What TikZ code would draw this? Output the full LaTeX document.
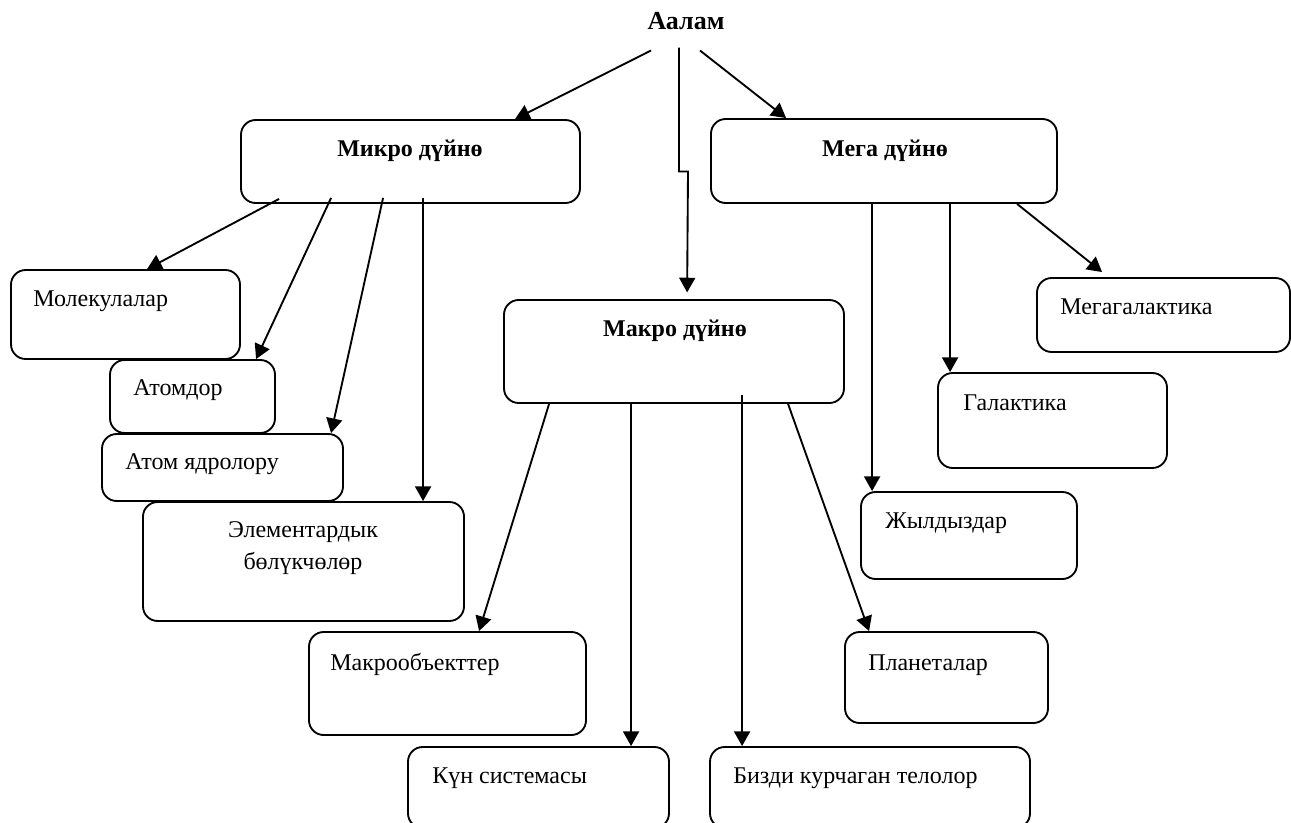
\documentclass[tikz,border=0pt]{standalone}
\usepackage{fontspec}
\setmainfont{Liberation Serif}
\usetikzlibrary{arrows.meta,calc,fit}
\begin{document}
\begin{tikzpicture}[x=0.75pt,y=-0.75pt,
  box/.style={draw=black,line width=1.4pt,rounded corners=11pt,inner sep=0pt},
  txt/.style={inner sep=0pt,font=\fontsize{18}{21}\selectfont},
  hdr/.style={inner sep=0pt,font=\fontsize{18}{22}\selectfont\bfseries},
  ttl/.style={inner sep=0pt,font=\fontsize{19.5}{24}\selectfont\bfseries},
  arr/.style={line width=1.4pt,-{Triangle[length=11pt,width=12pt]}}]
\useasboundingbox (0,0) rectangle (1291,823);
\clip (0,0) rectangle (1291,823);
% boxes
\node[box,fit={(241,120)(580,203)}] (micro) {};
\node[box,fit={(711,119)(1057,203)}] (mega) {};
\node[box,fit={(504,300)(844,403)}] (macro) {};
\node[box,fit={(11,270)(240,359)}] (mol) {};
\node[box,fit={(110,360)(275,433)}] (atom) {};
\node[box,fit={(102,434)(343,501)}] (nuc) {};
\node[box,fit={(143,502)(464,621)}] (elem) {};
\node[box,fit={(309,632)(586,735)}] (mobj) {};
\node[box,fit={(408,747)(669,828)}] (kun) {};
\node[box,fit={(710,747)(1030,828)}] (bizdi) {};
\node[box,fit={(845,632)(1048,723)}] (plan) {};
\node[box,fit={(861,492)(1077,579)}] (star) {};
\node[box,fit={(938,373)(1167,468)}] (gal) {};
\node[box,fit={(1037,278)(1290,352)}] (mgal) {};
% texts
\node[ttl,anchor=base] (title) at (686,30) {Аалам};
\node[hdr,anchor=base] (microT) at (410,157) {Микро дүйнө};
\node[hdr,anchor=base] (megaT) at (885,157) {Мега дүйнө};
\node[hdr,anchor=base] (macroT) at (675,337) {Макро дүйнө};
\node[txt,anchor=base west] (molT) at (33,307) {Молекулалар};
\node[txt,anchor=base west] (atomT) at (133,395) {Атомдор};
\node[txt,anchor=base west] (nucT) at (125,469) {Атом ядролору};
\node[txt,align=center,anchor=center,font=\fontsize{18}{24}\selectfont] (elemT) at (303,548) {Элементардык\\бөлүкчөлөр};
\node[txt,anchor=base west] (mobjT) at (330,670) {Макрообъекттер};
\node[txt,anchor=base west] (kunT) at (432,783) {Күн системасы};
\node[txt,anchor=base west] (bizdiT) at (733,783) {Бизди курчаган телолор};
\node[txt,anchor=base west] (planT) at (868,670) {Планеталар};
\node[txt,anchor=base west] (starT) at (885,528) {Жылдыздар};
\node[txt,anchor=base west] (galT) at (963,410) {Галактика};
\node[txt,anchor=base west] (mgalT) at (1060,315) {Мегагалактика};
% connectors from title
\draw[arr] ($(title.south)+(-35,20)$) -- ($(micro.north west)+(275,0)$);
\draw[arr] ($(title.south)+(14,20)$) -- ($(mega.north west)+(76,0)$);
\draw[arr,shorten >=5pt] ($(title.south)+(-7,17)$) -- ++(0,124) -- ++(9,0) -- ($(macro.north west)+(184,0)$);
% from micro
\draw[arr] ($(micro.south west)+(39,-5)$) -- ($(mol.north west)+(137,0)$);
\draw[arr] ($(micro.south west)+(91,-6)$) -- ($(atom.north west)+(147,0)$);
\draw[arr] ($(micro.south west)+(143,-6)$) -- ($(nuc.north west)+(230,0)$);
\draw[arr] ($(micro.south west)+(183,-6)$) -- ($(elem.north west)+(281,0)$);
% from macro
\draw[arr] ($(macro.south west)+(46,0)$) -- ($(mobj.north west)+(171,0)$);
\draw[arr] ($(macro.south west)+(128,0)$) -- ($(kun.north west)+(224,0)$);
\draw[arr] ($(macro.south west)+(239,-9)$) -- ($(bizdi.north west)+(33,0)$);
\draw[arr] ($(macro.south west)+(285,0)$) -- ($(plan.north west)+(25,0)$);
% from mega
\draw[arr] ($(mega.south west)+(162,0)$) -- ($(star.north west)+(12,0)$);
\draw[arr] ($(mega.south west)+(240,0)$) -- ($(gal.north west)+(13,0)$);
\draw[arr] ($(mega.south west)+(307,0)$) -- ($(mgal.north west)+(66,-5)$);
\end{tikzpicture}
\end{document}
